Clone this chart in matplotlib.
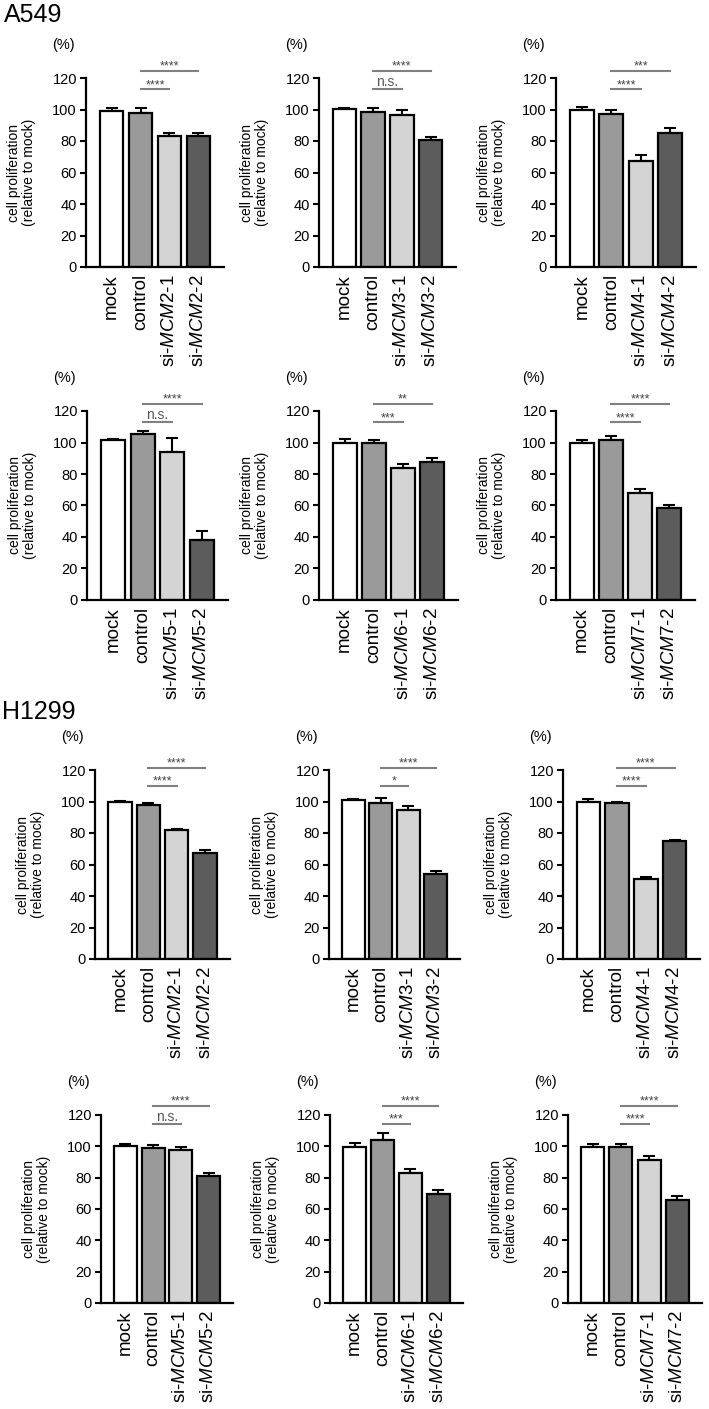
import matplotlib
matplotlib.use("Agg")
from matplotlib import pyplot as plt

plt.rcParams["font.family"] = ["Liberation Sans", "DejaVu Sans"]
plt.rcParams["mathtext.fontset"] = "custom"
plt.rcParams["mathtext.rm"] = "Liberation Sans"
plt.rcParams["mathtext.it"] = "Liberation Sans:italic"

# data
genes = ["MCM2", "MCM3", "MCM4", "MCM5", "MCM6", "MCM7"]
a549_mean = [[99.0, 97.5, 83.1, 83.1],
             [100.2, 98.5, 96.8, 80.6],
             [99.6, 97.1, 67.6, 85.2],
             [101.3, 105.6, 93.7, 38.2],
             [99.6, 99.6, 83.7, 87.6],
             [99.6, 101.7, 67.7, 58.1]]
a549_err = [[2.0, 3.5, 2.0, 1.7],
            [0.7, 2.4, 2.6, 2.0],
            [2.0, 2.5, 3.2, 2.8],
            [1.0, 1.5, 9.0, 5.5],
            [2.8, 2.3, 2.8, 2.5],
            [1.7, 2.3, 2.5, 2.5]]
a549_sig = [("****", "****"), ("n.s.", "****"), ("****", "***"),
            ("n.s.", "****"), ("***", "**"), ("****", "****")]
h1299_mean = [[99.4, 97.9, 81.8, 67.6],
              [100.9, 99.2, 94.3, 53.8],
              [99.4, 98.8, 50.7, 74.8],
              [100.4, 98.9, 97.7, 81.1],
              [99.8, 104.3, 83.0, 69.6],
              [99.8, 99.6, 91.1, 66.0]]
h1299_err = [[0.7, 1.0, 1.0, 1.7],
             [0.6, 3.0, 2.8, 2.0],
             [2.1, 1.2, 1.5, 0.9],
             [0.9, 2.1, 1.7, 1.9],
             [2.3, 4.2, 2.3, 2.5],
             [1.7, 1.9, 2.7, 2.5]]
h1299_sig = [("****", "****"), ("*", "****"), ("****", "****"),
             ("n.s.", "****"), ("***", "****"), ("****", "****")]

bar_colors = ["white", "#9a9a9a", "#d4d4d4", "#5c5c5c"]

W, H = 709, 1409
fig = plt.figure(figsize=(W / 100, H / 100), dpi=100)

# axes boxes in pixels: (left, right) per panel, (top, bottom) per row
rows = [
    [(86, 224), (319, 456), (556, 696)],
    [(87, 228), (319, 458), (556, 695)],
    [(95, 230), (329, 460), (563, 700)],
    [(101, 233), (330, 463), (568, 702)],
]
row_tb = [(78, 267), (411, 600), (770, 959), (1115, 1303)]
# heights of the significance lines (lower, upper) per row
sig_levels = [(113, 124.5), (113, 124.5), (110, 121.5), (114.5, 126)]


def draw_panel(ax, gene, mean, err, sig, lv):
    x = range(len(mean))
    ax.bar(x, mean, width=0.82, color=bar_colors, edgecolor="black", linewidth=1.6, zorder=2)
    ax.errorbar(x, mean, yerr=[[0] * len(err), err], fmt="none", ecolor="black",
                elinewidth=1.5, capsize=4, capthick=1.5, zorder=1)
    ax.set_xlim(-0.88, 3.88)
    ax.set_ylim(0, 120)
    ax.set_yticks(range(0, 121, 20))
    labels = ["mock", "control", r"si-$\mathit{%s}$-1" % gene, r"si-$\mathit{%s}$-2" % gene]
    ax.set_xticks(list(x))
    ax.set_xticklabels(labels, rotation=90, fontsize=13.5)
    ax.tick_params(axis="x", length=0, pad=5)
    ax.tick_params(axis="y", length=4.5, width=1.5, labelsize=10.5, pad=2)
    for s in ["top", "right"]:
        ax.spines[s].set_visible(False)
    for s in ["left", "bottom"]:
        ax.spines[s].set_linewidth(1.6)
    ax.set_ylabel("cell proliferation\n(relative to mock)", fontsize=10, linespacing=1.05)
    w = ax.get_position().width * W
    ax.yaxis.set_label_coords(-50 / w, 0.5)
    ax.annotate("(%)", xy=(0, 1), xycoords="axes fraction", xytext=(-23, 33),
                textcoords="offset pixels", ha="center", va="center", fontsize=10.5)
    # significance lines: control vs si-1 (lower) and control vs si-2 (upper)
    for (x2, y, txt) in [(2, lv[0], sig[0]), (3, lv[1], sig[1])]:
        ax.plot([1, x2], [y, y], color="#808080", lw=1.5, clip_on=False)
        if txt == "n.s.":
            ax.annotate(txt, xy=((1 + x2) / 2, y), xytext=(0, 3), textcoords="offset pixels",
                        ha="center", va="baseline", fontsize=10, color="#555555",
                        annotation_clip=False)
        else:
            ax.annotate(txt, xy=((1 + x2) / 2, y), xytext=(0, 1), textcoords="offset pixels",
                        ha="center", va="baseline", fontsize=9, color="#444444",
                        annotation_clip=False)


for r in range(4):
    if r < 2:
        mean_set, err_set, sig_set = a549_mean, a549_err, a549_sig
    else:
        mean_set, err_set, sig_set = h1299_mean, h1299_err, h1299_sig
    t, b = row_tb[r]
    for c in range(3):
        l, rr = rows[r][c]
        ax = fig.add_axes([l / W, 1 - b / H, (rr - l) / W, (b - t) / H])
        k = (r % 2) * 3 + c
        draw_panel(ax, genes[k], mean_set[k], err_set[k], sig_set[k], sig_levels[r])

fig.text(4 / W, 1 - 15 / H, "A549", fontsize=18, ha="left", va="center")
fig.text(2 / W, 1 - 712 / H, "H1299", fontsize=18, ha="left", va="center")

plt.savefig("out.png", dpi=100)
